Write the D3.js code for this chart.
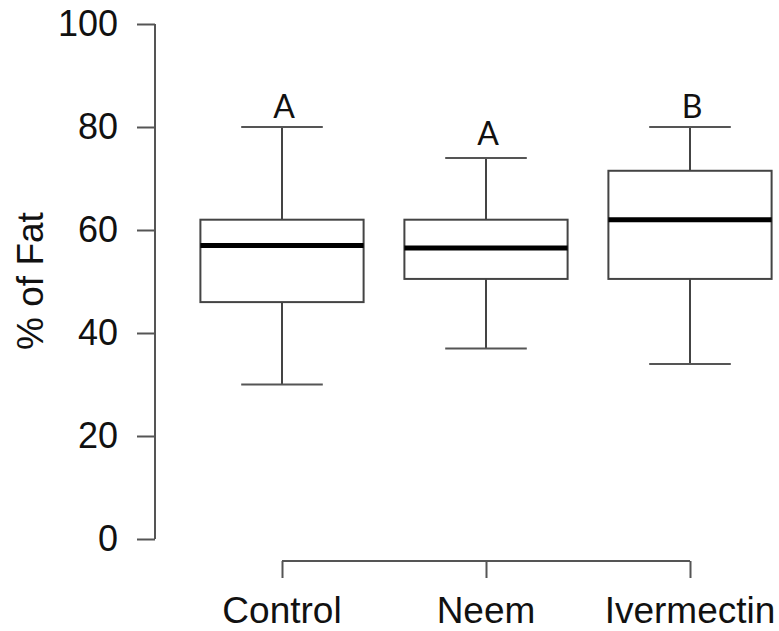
<!DOCTYPE html>
<html>
<head>
<meta charset="utf-8">
<script src="https://cdn.jsdelivr.net/npm/d3@7"></script>
<style>
body{margin:0;background:#fff;}
text{font-family:Arial,"Liberation Sans",sans-serif;fill:#111;}
</style>
</head>
<body>
<div id="chart"></div>
<script>
//data
var groups=["Control","Neem","Ivermectin"];
var whiskLow=[30,37,34];
var q1=[46,50.5,50.5];
var median=[57,56.5,62];
var q3=[62,62,71.5];
var whiskHigh=[80,74,80];
var letters=["A","A","B"];
var letterAt=[81.8,76.5,81.8];//value where letter baseline sits
var yTicks=[0,20,40,60,80,100];

var width=779,height=631;
var svg=d3.select("#chart").append("svg")
	.attr("width",width)
	.attr("height",height);

var y=d3.scaleLinear().domain([0,100]).range([539,24]);
var x=d3.scaleLinear().domain([1,3]).range([282,690]);
var boxHalf=x(1.4)-x(1);//boxwex 0.8
var capHalf=x(1.2)-x(1);

//y axis
var yAxis=svg.append("g").attr("transform","translate(155,0)")
	.call(d3.axisLeft(y).tickValues(yTicks).tickSize(18).tickPadding(19).tickFormat(d3.format("d")));
yAxis.select(".domain").attr("d","M0,"+y(100)+"V"+y(0)).attr("stroke","#555").attr("stroke-width",2);
yAxis.selectAll(".tick line").attr("stroke","#555").attr("stroke-width",2);
yAxis.selectAll(".tick text").attr("font-size",36).attr("font-family","Arial,'Liberation Sans',sans-serif").attr("fill","#111");

//x axis
var xAxis=svg.append("g").attr("transform","translate(0,561)")
	.call(d3.axisBottom(x).tickValues([1,2,3]).tickSize(17).tickPadding(0).tickFormat(function(d){return "";}));
xAxis.select(".domain").attr("d","M"+x(1)+",0H"+x(3)).attr("stroke","#555").attr("stroke-width",2);
xAxis.selectAll(".tick line").attr("stroke","#555").attr("stroke-width",2);
svg.selectAll("text.xlab").data(groups).enter().append("text")
	.attr("class","xlab")
	.attr("x",function(d,i){return x(i+1);})
	.attr("y",623)
	.attr("text-anchor","middle")
	.attr("font-size",37)
	.text(function(d){return d;});

//y title
svg.append("text")
	.attr("transform","translate(43,281) rotate(-90)")
	.attr("text-anchor","middle")
	.attr("font-size",37)
	.text("% of Fat");

//boxes
var g=svg.selectAll("g.box").data(groups).enter().append("g").attr("class","box");
g.append("line")//lower whisker
	.attr("x1",function(d,i){return x(i+1);}).attr("x2",function(d,i){return x(i+1);})
	.attr("y1",function(d,i){return y(whiskLow[i]);}).attr("y2",function(d,i){return y(q1[i]);})
	.attr("stroke","#444").attr("stroke-width",2);
g.append("line")//upper whisker
	.attr("x1",function(d,i){return x(i+1);}).attr("x2",function(d,i){return x(i+1);})
	.attr("y1",function(d,i){return y(whiskHigh[i]);}).attr("y2",function(d,i){return y(q3[i]);})
	.attr("stroke","#444").attr("stroke-width",2);
g.append("line")//low cap
	.attr("x1",function(d,i){return x(i+1)-capHalf;}).attr("x2",function(d,i){return x(i+1)+capHalf;})
	.attr("y1",function(d,i){return y(whiskLow[i]);}).attr("y2",function(d,i){return y(whiskLow[i]);})
	.attr("stroke","#555").attr("stroke-width",2);
g.append("line")//high cap
	.attr("x1",function(d,i){return x(i+1)-capHalf;}).attr("x2",function(d,i){return x(i+1)+capHalf;})
	.attr("y1",function(d,i){return y(whiskHigh[i]);}).attr("y2",function(d,i){return y(whiskHigh[i]);})
	.attr("stroke","#555").attr("stroke-width",2);
g.append("rect")
	.attr("x",function(d,i){return x(i+1)-boxHalf;})
	.attr("width",boxHalf*2)
	.attr("y",function(d,i){return y(q3[i]);})
	.attr("height",function(d,i){return y(q1[i])-y(q3[i]);})
	.attr("fill","#fff").attr("stroke","#444").attr("stroke-width",2);
g.append("line")//median
	.attr("x1",function(d,i){return x(i+1)-boxHalf;}).attr("x2",function(d,i){return x(i+1)+boxHalf;})
	.attr("y1",function(d,i){return y(median[i]);}).attr("y2",function(d,i){return y(median[i]);})
	.attr("stroke","#000").attr("stroke-width",5);
g.append("text")
	.attr("x",function(d,i){return x(i+1)+2;})
	.attr("y",function(d,i){return y(letterAt[i]);})
	.attr("text-anchor","middle")
	.attr("font-size",32)
	.style("font-family","Lato,'Open Sans',sans-serif")
	.text(function(d,i){return letters[i];});
</script>
</body>
</html>
